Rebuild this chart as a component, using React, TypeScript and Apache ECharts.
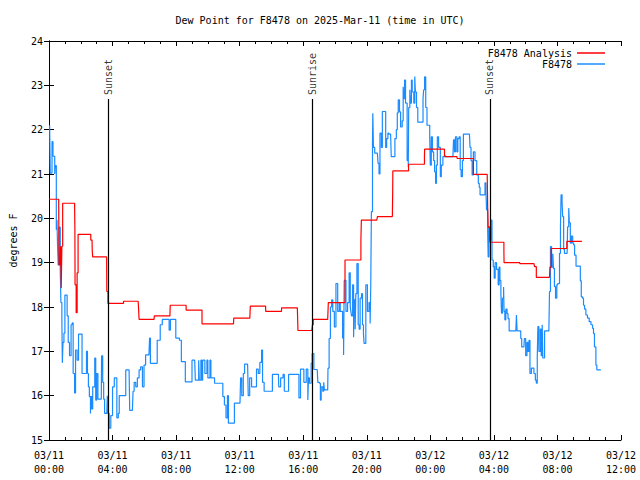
import React, { useEffect, useRef } from "react";
import * as echarts from "echarts";

// Observed dew point (F8478), hours since 2025-03-11 00:00 UTC
const obsHours = [
  0.04, 0.08, 0.14, 0.19, 0.25, 0.36, 0.39, 0.42, 0.46, 0.5, 0.54, 0.58, 0.63, 0.71, 0.75, 0.81, 0.84, 0.88, 0.94, 1.0,
  1.08, 1.14, 1.21, 1.29, 1.39, 1.46, 1.52, 1.61, 1.67, 1.77, 1.86, 2.02, 2.08, 2.29, 2.36, 2.42, 2.48, 2.54, 2.61, 2.63,
  2.69, 2.75, 2.81, 2.88, 2.94, 3.0, 3.08, 3.29, 3.31, 3.38, 3.44, 3.5, 3.64, 3.67, 3.71, 3.79, 3.89, 4.0, 4.11, 4.21,
  4.27, 4.36, 4.42, 4.69, 4.83, 5.04, 5.08, 5.25, 5.29, 5.36, 5.46, 5.56, 5.67, 5.77, 5.88, 5.98, 6.08, 6.29, 6.33, 6.38,
  6.5, 6.81, 7.0, 7.13, 7.5, 7.56, 7.64, 7.92, 7.98, 8.21, 8.33, 8.58, 8.89,
  9.0, 9.17, 9.21, 9.42, 9.46, 9.56, 9.61, 9.67, 9.81, 9.94, 10.0, 10.13, 10.19, 10.42, 10.88, 10.94, 11.04, 11.14, 11.23, 11.29,
  11.61, 11.67, 12.02, 12.06, 12.13, 12.23, 12.31, 12.5, 12.54, 12.63, 12.75, 12.92, 13.06, 13.17, 13.27, 13.38, 13.44, 13.54, 14.0, 14.06,
  14.44, 14.46, 14.58, 14.73, 14.81, 15.08, 15.67, 15.73, 15.83, 16.04, 16.19, 16.29, 16.33, 16.39, 16.5, 16.56, 16.67, 16.88, 16.92, 17.02,
  17.08, 17.13, 17.23, 17.29, 17.33, 17.54, 17.56, 17.63, 17.71, 17.79, 17.86, 17.96, 18.06, 18.17, 18.27, 18.33, 18.48, 18.54, 18.58, 18.69,
  18.79, 18.89, 18.96, 19.0, 19.04, 19.11, 19.17, 19.21, 19.27, 19.31, 19.38, 19.46, 19.52, 19.58, 19.67, 19.73, 19.79, 19.83, 19.94, 20.04,
  20.14, 20.21, 20.25, 20.29, 20.36, 20.38, 20.42, 20.5, 20.67, 20.71, 20.77, 20.83, 20.92, 20.98, 21.13, 21.19, 21.25, 21.33, 21.39, 21.5,
  21.54, 21.67, 21.77, 21.86, 21.92, 21.98, 22.06, 22.13, 22.23, 22.29, 22.33, 22.38, 22.44, 22.54, 22.61, 22.64, 22.71, 22.75, 22.81, 22.86,
  22.96, 23.02, 23.06, 23.13, 23.21, 23.48, 23.54, 23.58, 23.64, 23.71, 23.79, 23.89, 23.96, 24.0, 24.06, 24.13, 24.21, 24.27, 24.33, 24.38,
  24.44, 24.52, 24.63, 24.69, 24.79, 25.42, 25.46, 25.52, 25.58, 25.67, 25.73, 25.81, 25.88, 25.94, 26.02, 26.08, 26.46, 26.5, 26.56, 26.63,
  26.71, 26.81, 26.92, 27.02, 27.08, 27.13, 27.38, 27.44, 27.5, 27.54, 27.61, 27.64, 27.69, 27.75, 27.81, 27.88, 27.96, 28.02, 28.08, 28.17,
  28.27, 28.33, 28.38, 28.44, 28.48, 28.54, 28.61, 28.64, 28.69, 28.75, 28.83, 28.89, 28.96, 29.38, 29.42, 29.46, 29.63, 29.69, 29.75, 29.89,
  29.92, 30.0, 30.08, 30.14, 30.21, 30.27, 30.36, 30.46, 30.52, 30.61, 30.67, 30.73, 30.77, 30.83, 30.92, 30.98, 31.04, 31.08, 31.19, 31.46,
  31.5, 31.56, 31.63, 31.71, 31.75, 31.81, 31.88, 31.96, 32.02, 32.13, 32.19, 32.23, 32.29, 32.33, 32.39, 32.44, 32.61, 32.64, 32.71, 32.75,
  32.81, 32.88, 32.96, 33.02, 33.08, 33.17, 33.38, 33.44, 33.5, 33.58, 33.64, 33.71, 33.79, 33.89, 34.0, 34.11, 34.21, 34.27, 34.33, 34.42,
  34.48, 34.73,
];
const obsDewF = [
  22.1, 21.02, 21.02, 21.73, 21.4, 21.0, 21.19, 21.19, 19.74, 19.96, 19.36, 18.95, 19.8, 18.8, 18.1, 17.7, 16.74, 17.2, 17.41, 18.27,
  18.27, 17.8, 17.2, 16.9, 17.6, 17.64, 16.5, 16.06, 17.03, 16.8, 17.39, 17.39, 16.5, 16.5, 17.0, 16.5, 16.2, 15.98, 15.6, 15.98,
  15.7, 16.2, 16.2, 16.85, 15.9, 16.5, 15.92, 15.92, 16.9, 16.3, 15.92, 15.6, 15.63, 16.0, 15.6, 15.27, 15.55, 16.2, 16.4, 16.4,
  15.5, 15.6, 16.0, 16.0, 16.58, 16.58, 15.67, 15.67, 16.1, 16.3, 16.2, 16.4, 16.58, 16.65, 16.2, 16.69, 16.92, 16.92, 17.3, 16.73,
  16.73, 17.25, 17.6, 17.72, 17.72, 17.48, 17.72, 17.72, 17.3, 17.25, 16.77, 16.31, 16.31,
  16.8, 16.8, 16.35, 16.8, 16.35, 16.8, 16.35, 16.8, 16.5, 16.8, 16.4, 16.8, 16.4, 16.28, 16.28, 15.98, 15.79, 15.5, 16.0, 15.38,
  15.38, 15.83, 15.83, 16.4, 16.0, 16.5, 16.71, 16.71, 16.0, 16.4, 16.2, 16.2, 16.6, 16.5, 16.75, 17.03, 16.3, 16.1, 16.1, 16.48,
  16.48, 16.2, 16.4, 16.48, 16.1, 16.48, 16.48, 15.95, 16.6, 16.3, 16.6, 15.9, 16.4, 16.28, 16.73, 16.95, 16.59, 16.59, 16.3, 16.28,
  15.9, 16.2, 16.1, 16.3, 16.13, 16.13, 16.62, 17.29, 18.0, 18.16, 17.9, 17.55, 18.53, 17.9, 18.1, 17.9, 17.3, 16.92, 18.6, 17.9,
  18.1, 18.77, 18.0, 17.9, 17.8, 18.5, 17.32, 18.16, 17.5, 18.3, 18.98, 17.6, 17.5, 18.2, 18.3, 17.6, 17.4, 17.18, 18.5, 17.9,
  18.1, 17.63, 18.46, 20.15, 21.69, 22.37, 21.6, 21.47, 21.47, 21.24, 21.0, 21.92, 21.6, 22.41, 22.41, 21.6, 21.8, 21.92, 21.9, 21.9,
  21.39, 21.39, 21.8, 22.0, 22.38, 22.67, 22.4, 22.06, 22.2, 22.97, 22.7, 23.12, 22.6, 21.3, 21.16, 22.5, 22.9, 22.6, 23.12, 22.85,
  22.6, 23.2, 22.85, 22.5, 22.17, 22.17, 22.7, 22.9, 23.19, 22.5, 22.1, 22.1, 21.84, 21.2, 21.84, 21.5, 21.3, 21.05, 20.79, 21.2,
  21.84, 21.6, 20.94, 21.2, 21.39, 21.39, 21.77, 21.5, 21.84, 21.5, 21.8, 21.84, 21.1, 20.94, 21.3, 21.9, 21.9, 21.6, 21.3, 20.98,
  21.5, 21.3, 20.98, 20.79, 20.7, 20.53, 20.53, 20.8, 20.6, 20.19, 19.7, 19.13, 19.8, 19.5, 19.96, 19.06, 18.91, 18.65, 19.0, 18.85,
  18.5, 18.9, 18.6, 18.31, 17.86, 18.2, 18.45, 17.9, 17.71, 17.95, 17.85, 17.74, 17.46, 17.46, 17.82, 17.46, 17.46, 17.29, 17.1, 17.1,
  17.29, 16.9, 17.2, 17.0, 17.25, 16.5, 16.62, 16.62, 16.5, 16.35, 16.28, 16.88, 17.56, 17.0, 17.5, 16.9, 17.6, 16.85, 17.46, 17.46,
  18.35, 19.36, 18.9, 19.2, 18.87, 18.46, 18.2, 18.5, 18.53, 19.21, 19.81, 20.53, 20.37, 20.04, 19.3, 19.21, 19.21, 19.81, 20.23, 19.9,
  19.44, 19.6, 19.44, 19.4, 19.17, 18.92, 18.92, 18.59, 18.23, 18.2, 18.04, 17.95, 17.82, 17.75, 17.67, 17.6, 17.52, 17.4, 17.1, 16.69,
  16.58, 16.58,
];

// Analysis dew point (F8478 Analysis)
const anaHours = [
  0, 0.61, 0.63, 0.69, 0.73, 0.77, 0.81, 0.86, 1.61, 1.63, 1.64, 1.71, 1.77, 1.83, 2.58, 2.63, 2.71, 2.72, 2.75, 3.58,
  3.63, 3.64, 3.71, 4.63, 4.69, 5.61, 5.63, 5.67, 6.61, 6.63, 7.61, 7.63, 8.58, 8.63, 9.58, 9.63, 11.61, 11.63, 12.64, 12.67,
  13.63, 13.64, 14.63, 14.64, 15.63, 15.67, 16.54, 16.58, 16.63, 17.54, 17.58, 18.58, 18.63, 19.58, 19.63, 19.66, 20.63, 20.67, 21.61, 21.63,
  21.64, 22.58, 22.63, 23.58, 23.63, 23.64, 24.63, 24.89, 24.94, 25.67, 25.69, 26.54, 26.71, 27.58, 27.61, 27.64, 27.75, 28.58, 28.63, 28.64,
  29.58, 29.63, 30.52, 30.56, 30.67, 31.5, 31.53, 31.61, 32.54, 32.59, 33.54,
];
const anaDewF = [
  20.43, 20.43, 18.95, 18.95, 19.37, 18.43, 19.37, 20.34, 20.34, 19.71, 18.5, 17.87, 18.77, 19.64, 19.64, 19.51, 19.51, 19.28, 19.13, 19.13,
  18.88, 18.35, 18.08, 18.08, 18.13, 18.13, 18.02, 17.72, 17.72, 17.8, 17.8, 18.04, 18.04, 17.93, 17.93, 17.62, 17.62, 17.75, 17.75, 18.02,
  18.02, 17.9, 17.9, 17.98, 17.98, 17.47, 17.47, 17.6, 17.72, 17.72, 18.1, 18.1, 19.06, 19.06, 19.51, 19.96, 19.96, 20.04, 20.04, 20.56,
  21.07, 21.07, 21.22, 21.22, 21.39, 21.56, 21.56, 21.41, 21.39, 21.39, 21.35, 21.35, 20.99, 20.99, 20.23, 19.8, 19.46, 19.46, 19.25, 19.0,
  19.0, 18.98, 18.98, 18.91, 18.67, 18.67, 18.9, 19.32, 19.32, 19.48, 19.48,
];

// Solar events
const eventNames = ["Sunset", "Sunrise", "Sunset"];
const eventHours = [3.75, 16.56, 27.75];
const eventTop = 22.69;

const FONT = "'DejaVu Sans Mono', 'Liberation Mono', monospace";

export default function App() {
  const ref = useRef<HTMLDivElement>(null);
  useEffect(() => {
    document.body.style.margin = "0";
    if (!ref.current) return;
    const chart = echarts.init(ref.current, null, { renderer: "svg" });
    const obsData = obsHours.map((h, i) => [h, obsDewF[i]]);
    const anaData = anaHours.map((h, i) => [h, anaDewF[i]]);
    const evData = eventHours.map((h, i) => [h, eventTop, eventNames[i]]);
    const fmtX = (v: number) => {
      const day = 11 + Math.floor(v / 24);
      const hh = Math.round(v % 24);
      return `03/${day}\n${hh < 10 ? "0" : ""}${hh}:00`;
    };
    const baseX = {
      type: "value" as const,
      min: 0,
      max: 36,
      interval: 4,
      axisLine: { show: true, lineStyle: { color: "#000", width: 1 } },
      axisTick: { show: true, inside: true, length: 5, lineStyle: { color: "#000" } },
      minorTick: { show: true, splitNumber: 4, length: 3, lineStyle: { color: "#000" } },
      splitLine: { show: false },
    };
    const baseY = {
      type: "value" as const,
      min: 15,
      max: 24,
      interval: 1,
      axisLine: { show: true, lineStyle: { color: "#000", width: 1 } },
      axisTick: { show: true, inside: true, length: 5, lineStyle: { color: "#000" } },
      splitLine: { show: false },
    };
    chart.setOption({
      animation: false,
      backgroundColor: "#fff",
      textStyle: { fontFamily: FONT },
      title: {
        text: "Dew Point for F8478 on 2025-Mar-11 (time in UTC)",
        left: "center",
        top: 10,
        textStyle: { fontFamily: FONT, fontSize: 10, fontWeight: "normal", color: "#000" },
      },
      legend: {
        orient: "vertical",
        right: 30,
        top: 43,
        align: "right",
        icon: "rect",
        itemWidth: 28,
        itemHeight: 1.5,
        itemGap: 1,
        textStyle: { fontFamily: FONT, fontSize: 10, color: "#000" },
        data: ["F8478 Analysis", "F8478"],
      },
      grid: { left: 46, right: 19, top: 41, bottom: 40, containLabel: false },
      xAxis: [
        {
          ...baseX,
          position: "bottom",
          axisLabel: { formatter: fmtX, fontFamily: FONT, fontSize: 10, color: "#000", margin: 8, lineHeight: 14 },
        },
        { ...baseX, position: "top", axisLabel: { show: false } },
      ],
      yAxis: [
        {
          ...baseY,
          position: "left",
          name: "degrees F",
          nameLocation: "middle",
          nameRotate: 90,
          nameGap: 31,
          nameTextStyle: { fontFamily: FONT, fontSize: 10, color: "#000" },
          axisLabel: { fontFamily: FONT, fontSize: 10, color: "#000", margin: 6 },
        },
        { ...baseY, position: "right", axisLabel: { show: false } },
      ],
      series: [
        {
          name: "F8478 Analysis",
          type: "line",
          data: anaData,
          showSymbol: false,
          step: "end",
          color: "#ff0000",
          lineStyle: { color: "#ff0000", width: 1.2 },
          z: 3,
        },
        {
          name: "F8478",
          type: "line",
          data: obsData,
          showSymbol: false,
          step: "end",
          color: "#1a8cff",
          lineStyle: { color: "#1a8cff", width: 1.2 },
          z: 2,
        },
        {
          name: "events",
          type: "scatter",
          data: evData,
          symbolSize: 0,
          silent: true,
          label: {
            show: true,
            formatter: (p: any) => p.data[2],
            position: "top",
            distance: 4,
            rotate: 90,
            align: "left",
            verticalAlign: "middle",
            fontFamily: FONT,
            fontSize: 10,
            color: "#000",
          },
          markLine: {
            silent: true,
            symbol: "none",
            label: { show: false },
            lineStyle: { color: "#000", width: 1.2, type: "solid" },
            data: eventHours.map((h) => [
              { coord: [h, 15] },
              { coord: [h, eventTop] },
            ]),
          },
          z: 4,
        },
      ],
    });
    return () => chart.dispose();
  }, []);
  return <div ref={ref} style={{ width: 640, height: 480 }} />;
}
